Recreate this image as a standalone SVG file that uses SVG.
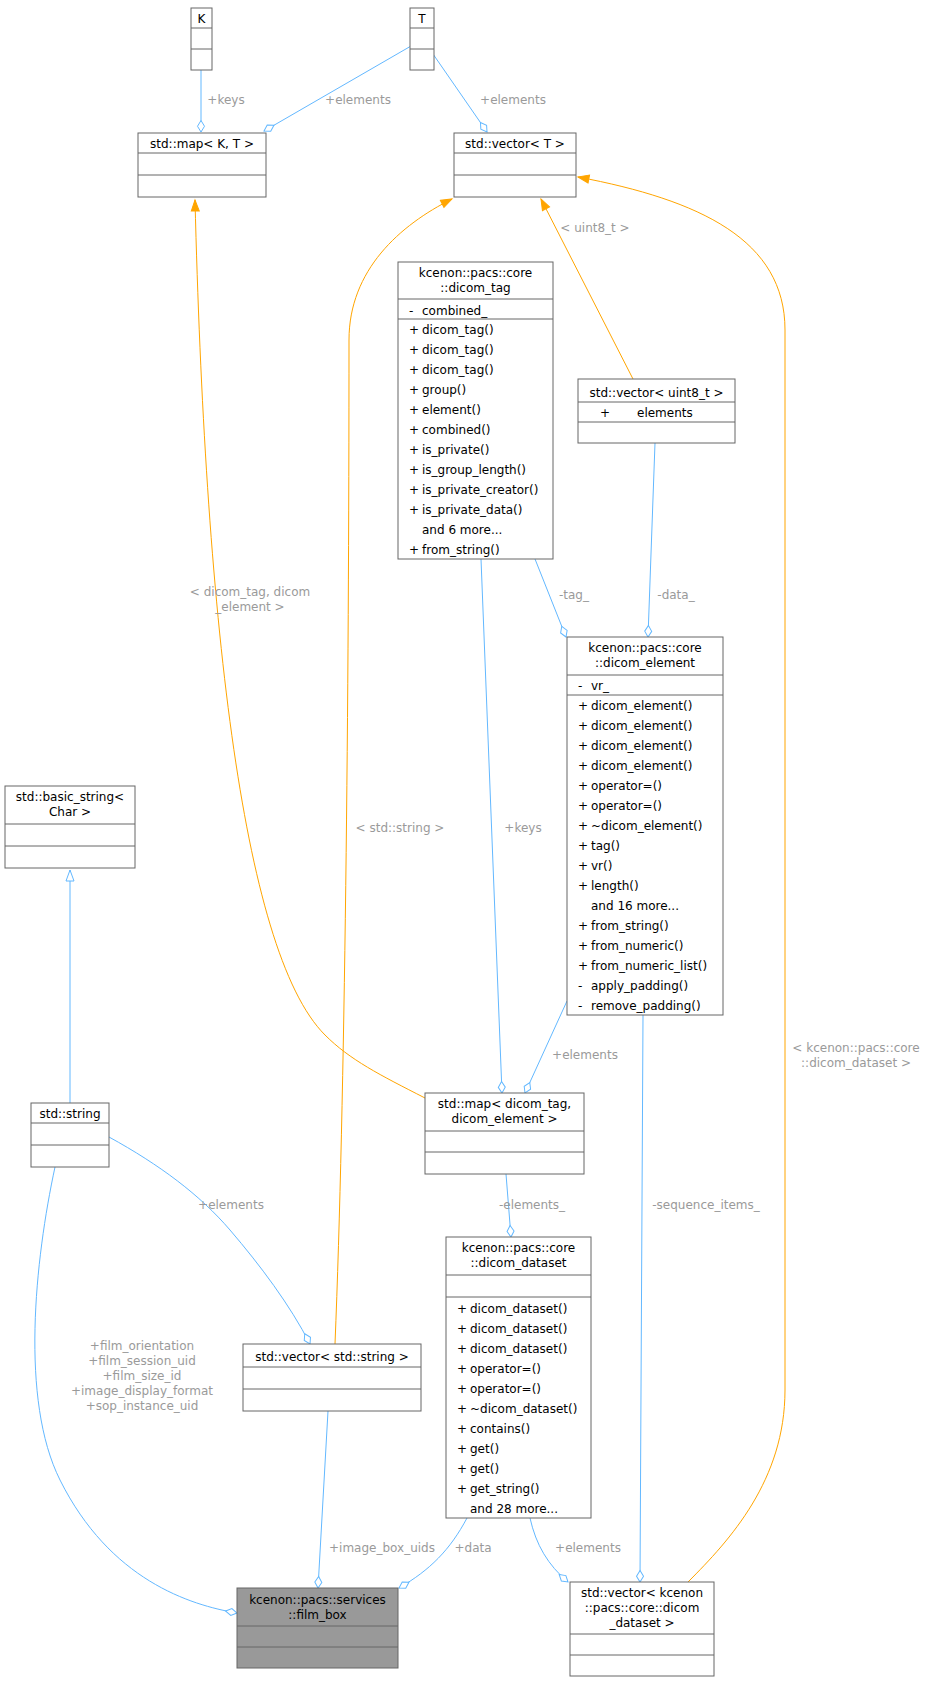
<svg xmlns="http://www.w3.org/2000/svg" width="932" height="1681" viewBox="0 0 932 1681">
<style>
.n{fill:#fff;stroke:#666;stroke-width:1}
.t{font-family:"DejaVu Sans",sans-serif;font-size:12px;fill:#000}
.c{text-anchor:middle}
.l{font-family:"DejaVu Sans",sans-serif;font-size:12px;fill:#9a9a9a;text-anchor:middle}
.b{fill:none;stroke:#63b8ff;stroke-width:1}
.o{fill:none;stroke:#ffa500;stroke-width:1}
</style>
<defs>
<marker id="d" markerUnits="userSpaceOnUse" markerWidth="13" markerHeight="9" refX="11.5" refY="4" orient="auto" overflow="visible"><path d="M0,4 L5.75,0.5 L11.5,4 L5.75,7.5 Z" fill="#fff" stroke="#63b8ff"/></marker>
<marker id="a" markerUnits="userSpaceOnUse" markerWidth="12" markerHeight="10" refX="11" refY="4.5" orient="auto" overflow="visible"><path d="M0,0.5 L11,4.5 L0,8.5 Z" fill="#ffa500" stroke="#ffa500"/></marker>
<marker id="h" markerUnits="userSpaceOnUse" markerWidth="12" markerHeight="10" refX="11" refY="4.5" orient="auto" overflow="visible"><path d="M0,0.5 L11,4.5 L0,8.5 Z" fill="#fff" stroke="#63b8ff"/></marker>
</defs>
<g id="edges">
<path class="b" d="M201,70 L201,132" marker-end="url(#d)"/>
<text class="l" x="226" y="104">+keys</text>
<path class="b" d="M411,46 L264,131" marker-end="url(#d)"/>
<text class="l" x="358" y="104">+elements</text>
<path class="b" d="M433,54 L487,132" marker-end="url(#d)"/>
<text class="l" x="513" y="104">+elements</text>
<path class="o" d="M633,379 L541,199" marker-end="url(#a)"/>
<text class="l" x="595" y="232">&lt; uint8_t &gt;</text>
<path class="o" d="M425,1098 C380,1075 350,1060 325,1035 C240,950 205,600 195,200" marker-end="url(#a)"/>
<text class="l" x="250" y="596">&lt; dicom_tag, dicom</text>
<text class="l" x="250" y="611">_element &gt;</text>
<path class="o" d="M335,1344 C345,1100 349,700 349,340 C349,270 400,225 452,199" marker-end="url(#a)"/>
<text class="l" x="400" y="832">&lt; std::string &gt;</text>
<path class="o" d="M688,1582 C730,1540 785,1480 785,1390 L785,330 C785,240 700,200 578,177" marker-end="url(#a)"/>
<text class="l" x="856" y="1052">&lt; kcenon::pacs::core</text>
<text class="l" x="856" y="1067">::dicom_dataset &gt;</text>
<path class="b" d="M70,1103 L70,870" marker-end="url(#h)"/>
<path class="b" d="M535,559 L566,637" marker-end="url(#d)"/>
<text class="l" x="574" y="599">-tag_</text>
<path class="b" d="M655,443 L648,637" marker-end="url(#d)"/>
<text class="l" x="676" y="599">-data_</text>
<path class="b" d="M481,559 L502,1093" marker-end="url(#d)"/>
<text class="l" x="523" y="832">+keys</text>
<path class="b" d="M567,1001 L525,1093" marker-end="url(#d)"/>
<text class="l" x="585" y="1059">+elements</text>
<path class="b" d="M506,1174 L511,1237" marker-end="url(#d)"/>
<text class="l" x="532" y="1209">-elements_</text>
<path class="b" d="M643,1015 L640,1582" marker-end="url(#d)"/>
<text class="l" x="706" y="1209">-sequence_items_</text>
<path class="b" d="M530,1518 C536,1545 548,1565 568,1582" marker-end="url(#d)"/>
<text class="l" x="588" y="1552">+elements</text>
<path class="b" d="M55,1167 C35,1260 20,1400 60,1480 C110,1580 190,1605 237,1613" marker-end="url(#d)"/>
<text class="l" x="142" y="1350">+film_orientation</text>
<text class="l" x="142" y="1365">+film_session_uid</text>
<text class="l" x="142" y="1380">+film_size_id</text>
<text class="l" x="142" y="1395">+image_display_format</text>
<text class="l" x="142" y="1410">+sop_instance_uid</text>
<path class="b" d="M109,1137 C160,1165 200,1195 230,1230 C260,1265 290,1305 310,1344" marker-end="url(#d)"/>
<text class="l" x="231" y="1209">+elements</text>
<path class="b" d="M328,1411 L318,1588" marker-end="url(#d)"/>
<text class="l" x="382" y="1552">+image_box_uids</text>
<path class="b" d="M467,1518 C450,1550 430,1570 399,1588" marker-end="url(#d)"/>
<text class="l" x="473" y="1552">+data</text>
</g>
<g id="K">
<rect class="n" x="191" y="8" width="21" height="62"/>
<path class="n" d="M191,28 H212 M191,49 H212"/>
<text class="t c" x="201.5" y="23">K</text>
</g>
<g id="T">
<rect class="n" x="410" y="8" width="24" height="62"/>
<path class="n" d="M410,28 H434 M410,49 H434"/>
<text class="t c" x="422" y="23">T</text>
</g>
<g id="mapKT">
<rect class="n" x="138" y="133" width="128" height="64"/>
<path class="n" d="M138,153 H266 M138,175 H266"/>
<text class="t c" x="202" y="148">std::map&lt; K, T &gt;</text>
</g>
<g id="vectorT">
<rect class="n" x="454" y="133" width="122" height="64"/>
<path class="n" d="M454,153 H576 M454,175 H576"/>
<text class="t c" x="515" y="148">std::vector&lt; T &gt;</text>
</g>
<g id="dicom_tag">
<rect class="n" x="398" y="262" width="155" height="297"/>
<path class="n" d="M398,299 H553 M398,319 H553"/>
<text class="t c" x="475.5" y="277">kcenon::pacs::core</text>
<text class="t c" x="475.5" y="292">::dicom_tag</text>
<text class="t" x="409" y="315">-</text><text class="t" x="422" y="315">combined_</text>
<g class="t">
<text x="409" y="334">+</text><text x="422" y="334">dicom_tag()</text>
<text x="409" y="354">+</text><text x="422" y="354">dicom_tag()</text>
<text x="409" y="374">+</text><text x="422" y="374">dicom_tag()</text>
<text x="409" y="394">+</text><text x="422" y="394">group()</text>
<text x="409" y="414">+</text><text x="422" y="414">element()</text>
<text x="409" y="434">+</text><text x="422" y="434">combined()</text>
<text x="409" y="454">+</text><text x="422" y="454">is_private()</text>
<text x="409" y="474">+</text><text x="422" y="474">is_group_length()</text>
<text x="409" y="494">+</text><text x="422" y="494">is_private_creator()</text>
<text x="409" y="514">+</text><text x="422" y="514">is_private_data()</text>
<text x="422" y="534">and 6 more...</text>
<text x="409" y="554">+</text><text x="422" y="554">from_string()</text>
</g>
</g>
<g id="vector_uint8">
<rect class="n" x="578" y="379" width="157" height="64"/>
<path class="n" d="M578,402 H735 M578,422 H735"/>
<text class="t c" x="656.5" y="397">std::vector&lt; uint8_t &gt;</text>
<text class="t" x="600" y="417">+</text><text class="t" x="637" y="417">elements</text>
</g>
<g id="dicom_element">
<rect class="n" x="567" y="637" width="156" height="378"/>
<path class="n" d="M567,675 H723 M567,695 H723"/>
<text class="t c" x="645" y="652">kcenon::pacs::core</text>
<text class="t c" x="645" y="667">::dicom_element</text>
<text class="t" x="578" y="690">-</text><text class="t" x="591" y="690">vr_</text>
<g class="t">
<text x="578" y="710">+</text><text x="591" y="710">dicom_element()</text>
<text x="578" y="730">+</text><text x="591" y="730">dicom_element()</text>
<text x="578" y="750">+</text><text x="591" y="750">dicom_element()</text>
<text x="578" y="770">+</text><text x="591" y="770">dicom_element()</text>
<text x="578" y="790">+</text><text x="591" y="790">operator=()</text>
<text x="578" y="810">+</text><text x="591" y="810">operator=()</text>
<text x="578" y="830">+</text><text x="591" y="830">~dicom_element()</text>
<text x="578" y="850">+</text><text x="591" y="850">tag()</text>
<text x="578" y="870">+</text><text x="591" y="870">vr()</text>
<text x="578" y="890">+</text><text x="591" y="890">length()</text>
<text x="591" y="910">and 16 more...</text>
<text x="578" y="930">+</text><text x="591" y="930">from_string()</text>
<text x="578" y="950">+</text><text x="591" y="950">from_numeric()</text>
<text x="578" y="970">+</text><text x="591" y="970">from_numeric_list()</text>
<text x="578" y="990">-</text><text x="591" y="990">apply_padding()</text>
<text x="578" y="1010">-</text><text x="591" y="1010">remove_padding()</text>
</g>
</g>
<g id="basic_string">
<rect class="n" x="5" y="786" width="130" height="82"/>
<path class="n" d="M5,824 H135 M5,846 H135"/>
<text class="t c" x="70" y="801">std::basic_string&lt;</text>
<text class="t c" x="70" y="816">Char &gt;</text>
</g>
<g id="string">
<rect class="n" x="31" y="1103" width="78" height="64"/>
<path class="n" d="M31,1123 H109 M31,1145 H109"/>
<text class="t c" x="70" y="1118">std::string</text>
</g>
<g id="map_tag_element">
<rect class="n" x="425" y="1093" width="159" height="81"/>
<path class="n" d="M425,1131 H584 M425,1152 H584"/>
<text class="t c" x="504.5" y="1108">std::map&lt; dicom_tag,</text>
<text class="t c" x="504.5" y="1123">dicom_element &gt;</text>
</g>
<g id="dicom_dataset">
<rect class="n" x="446" y="1237" width="145" height="281"/>
<path class="n" d="M446,1275 H591 M446,1297 H591"/>
<text class="t c" x="518.5" y="1252">kcenon::pacs::core</text>
<text class="t c" x="518.5" y="1267">::dicom_dataset</text>
<g class="t">
<text x="457" y="1313">+</text><text x="470" y="1313">dicom_dataset()</text>
<text x="457" y="1333">+</text><text x="470" y="1333">dicom_dataset()</text>
<text x="457" y="1353">+</text><text x="470" y="1353">dicom_dataset()</text>
<text x="457" y="1373">+</text><text x="470" y="1373">operator=()</text>
<text x="457" y="1393">+</text><text x="470" y="1393">operator=()</text>
<text x="457" y="1413">+</text><text x="470" y="1413">~dicom_dataset()</text>
<text x="457" y="1433">+</text><text x="470" y="1433">contains()</text>
<text x="457" y="1453">+</text><text x="470" y="1453">get()</text>
<text x="457" y="1473">+</text><text x="470" y="1473">get()</text>
<text x="457" y="1493">+</text><text x="470" y="1493">get_string()</text>
<text x="470" y="1513">and 28 more...</text>
</g>
</g>
<g id="vector_string">
<rect class="n" x="243" y="1344" width="178" height="67"/>
<path class="n" d="M243,1367 H421 M243,1389 H421"/>
<text class="t c" x="332" y="1361">std::vector&lt; std::string &gt;</text>
</g>
<g id="film_box">
<rect x="237" y="1588" width="161" height="80" fill="#999" stroke="#666"/>
<path d="M237,1626 H398 M237,1647 H398" stroke="#666"/>
<text class="t c" x="317.5" y="1604">kcenon::pacs::services</text>
<text class="t c" x="317.5" y="1619">::film_box</text>
</g>
<g id="vector_dataset">
<rect class="n" x="570" y="1582" width="144" height="94"/>
<path class="n" d="M570,1634 H714 M570,1655 H714"/>
<text class="t c" x="642" y="1597">std::vector&lt; kcenon</text>
<text class="t c" x="642" y="1612">::pacs::core::dicom</text>
<text class="t c" x="642" y="1627">_dataset &gt;</text>
</g>
</svg>
